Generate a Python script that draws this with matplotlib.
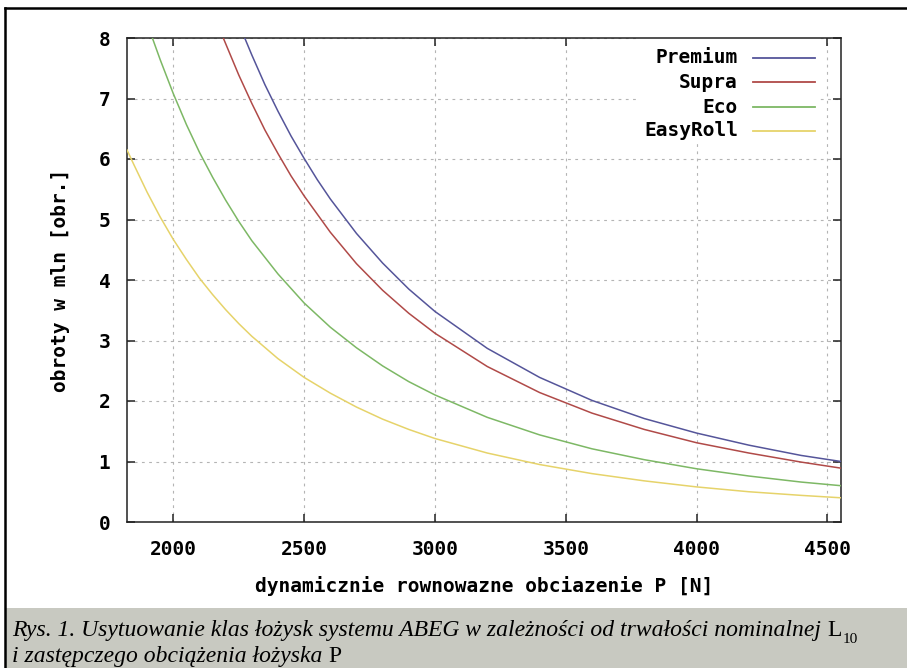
"""
Trwałość nominalna L10 łożysk ABEG w funkcji obciążenia P.

Krzywe dla czterech klas łożysk, styl zbliżony do wykresu z gnuplota,
pod wykresem szary pasek z podpisem rysunku.
"""
import matplotlib
matplotlib.use('Agg')
import matplotlib.pyplot as plt
from matplotlib.lines import Line2D
from matplotlib.patches import Rectangle
from matplotlib.transforms import IdentityTransform


# ─── data ───────────────────────────────────────────────────────────────────

p_premium = [2273, 2300, 2350, 2400, 2450, 2500, 2550, 2600, 2700, 2800, 2900,
             3000, 3200, 3400, 3600, 3800, 4000, 4200, 4400, 4552]
l_premium = [8.00, 7.72, 7.23, 6.79, 6.38, 6.01, 5.66, 5.34, 4.77, 4.28, 3.85,
             3.48, 2.87, 2.39, 2.01, 1.71, 1.47, 1.27, 1.10, 1.00]

p_supra = [2191, 2250, 2300, 2350, 2400, 2450, 2500, 2600, 2700, 2800, 2900,
           3000, 3200, 3400, 3600, 3800, 4000, 4200, 4400, 4552]
l_supra = [8.00, 7.39, 6.92, 6.48, 6.09, 5.72, 5.39, 4.79, 4.27, 3.83, 3.45,
           3.12, 2.57, 2.14, 1.80, 1.53, 1.31, 1.14, 0.99, 0.89]

p_eco = [1920, 1950, 2000, 2050, 2100, 2150, 2200, 2250, 2300, 2400, 2500,
         2600, 2700, 2800, 2900, 3000, 3200, 3400, 3600, 3800, 4000, 4200,
         4400, 4552]
l_eco = [8.00, 7.64, 7.08, 6.57, 6.11, 5.70, 5.32, 4.97, 4.65, 4.10, 3.62,
         3.22, 2.88, 2.58, 2.32, 2.10, 1.73, 1.44, 1.21, 1.03, 0.88, 0.76,
         0.66, 0.60]

p_easy = [1823, 1850, 1900, 1950, 2000, 2050, 2100, 2150, 2200, 2250, 2300,
          2400, 2500, 2600, 2700, 2800, 2900, 3000, 3200, 3400, 3600, 3800,
          4000, 4200, 4400, 4552]
l_easy = [6.15, 5.90, 5.45, 5.04, 4.67, 4.34, 4.03, 3.76, 3.51, 3.28, 3.07,
          2.70, 2.39, 2.13, 1.90, 1.70, 1.53, 1.38, 1.14, 0.95, 0.80, 0.68,
          0.58, 0.50, 0.44, 0.40]

series_names = ['Premium', 'Supra', 'Eco', 'EasyRoll']
series_colors = ['#55559a', '#b04a48', '#7db865', '#e6d36a']

x_ticks = [2000, 2500, 3000, 3500, 4000, 4500]
y_ticks = [0, 1, 2, 3, 4, 5, 6, 7, 8]

caption_1 = 'Rys. 1. Usytuowanie klas łożysk systemu ABEG w zależności od trwałości nominalnej'
caption_2 = 'i zastępczego obciążenia łożyska'

# ─── figure ─────────────────────────────────────────────────────────────────

W, H = 907, 668
MONO = 'DejaVu Sans Mono'

fig = plt.figure(figsize=(W / 100, H / 100), dpi=100)
fig.patch.set_facecolor('white')

# axes: 127..841 px poziomo, 38..522 px pionowo
ax = fig.add_axes([127 / W, 1 - 522 / H, (841 - 127) / W, (522 - 38) / H])

for p, l, c, n in zip([p_premium, p_supra, p_eco, p_easy],
                      [l_premium, l_supra, l_eco, l_easy],
                      series_colors, series_names):
    ax.plot(p, l, color=c, linewidth=1.1, label=n, zorder=3)

ax.set_xlim(1823, 4552)
ax.set_ylim(0, 8)
ax.set_xticks(x_ticks)
ax.set_yticks(y_ticks)
ax.grid(True, color='#b4b4b4', linewidth=0.8, linestyle=(0, (2.5, 4)))
ax.set_axisbelow(True)

ax.tick_params(direction='in', length=6, width=1.1, top=True, right=True,
               labelsize=14, color='#222222')
ax.tick_params(axis='x', pad=13)
ax.tick_params(axis='y', pad=12)
for lab in ax.get_xticklabels() + ax.get_yticklabels():
    lab.set_fontfamily(MONO)
    lab.set_fontweight('bold')
for s in ax.spines.values():
    s.set_linewidth(1.1)
    s.set_color('#222222')

ax.set_xlabel('dynamicznie rownowazne obciazenie P [N]', fontfamily=MONO,
              fontweight='bold', fontsize=14)
ax.set_ylabel('obroty w mln [obr.]', fontfamily=MONO, fontweight='bold',
              fontsize=14)
ax.xaxis.set_label_coords(0.5, -0.112)
ax.yaxis.set_label_coords(-0.08, 0.5)

# legenda w stylu gnuplota: tekst wyrównany do prawej, linia po prawej
ax.add_patch(Rectangle((0.714, 0.783), 0.254, 0.217, transform=ax.transAxes,
                       facecolor='white', edgecolor='none', zorder=2))
key_rows = [0.9587, 0.909, 0.8574, 0.8079]
for n, c, yy in zip(series_names, series_colors, key_rows):
    ax.text(0.8557, yy, n, transform=ax.transAxes, ha='right', va='center',
            fontfamily=MONO, fontweight='bold', fontsize=14, zorder=4)
    ax.add_line(Line2D([0.8768, 0.9636], [yy, yy], transform=ax.transAxes,
                       color=c, linewidth=1.3, zorder=4))

# ─── ramka i podpis ─────────────────────────────────────────────────────────

px = IdentityTransform()
fig.add_artist(Rectangle((5, 0), W - 5, 60, transform=px,
                         facecolor='#c8c9c1', edgecolor='none'))
fig.add_artist(Line2D([4.5, W], [H - 8, H - 8], transform=px,
                      color='black', linewidth=1.8))
fig.add_artist(Line2D([4.5, 4.5], [0, H - 8], transform=px,
                      color='black', linewidth=1.8))

serif = 'Liberation Serif'
cap_size = 17
t1 = fig.text(12, H - 636, caption_1, transform=px, fontfamily=serif,
              fontstyle='italic', fontsize=cap_size, va='baseline')
t2 = fig.text(12, H - 662, caption_2, transform=px, fontfamily=serif,
              fontstyle='italic', fontsize=cap_size, va='baseline')

renderer = fig.canvas.get_renderer()
b1 = t1.get_window_extent(renderer)
b2 = t2.get_window_extent(renderer)
tl = fig.text(b1.x1 + 6, H - 636, 'L', transform=px, fontfamily=serif,
              fontsize=cap_size, va='baseline')
bl = tl.get_window_extent(renderer)
fig.text(bl.x1 + 1, H - 643, '10', transform=px, fontfamily=serif,
         fontsize=11, va='baseline')
fig.text(b2.x1 + 6, H - 662, 'P', transform=px, fontfamily=serif,
         fontsize=cap_size, va='baseline')

fig.savefig('out.png', dpi=100)
plt.close(fig)
